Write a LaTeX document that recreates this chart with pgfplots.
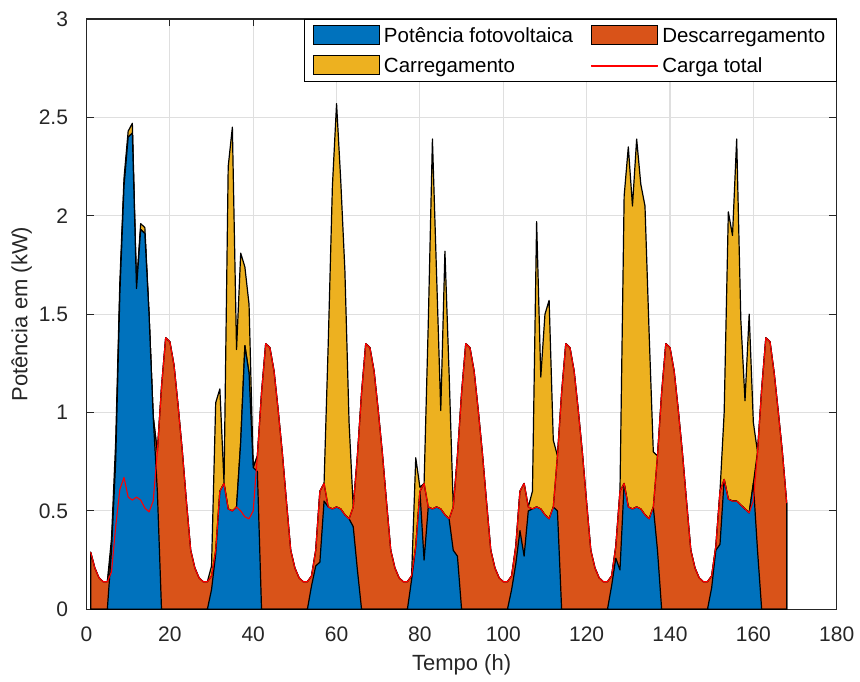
\documentclass[border=0pt]{standalone}
\usepackage{pgfplots}
\usepackage{pgfplotstable}
\usepackage{fontspec}
\setmainfont{Liberation Sans}
\pgfplotsset{compat=1.18}
\definecolor{mblue}{rgb}{0,0.447,0.741}
\definecolor{morange}{rgb}{0.85,0.325,0.098}
\definecolor{myellow}{rgb}{0.929,0.694,0.125}
\definecolor{mred}{rgb}{1,0,0}
\definecolor{axgray}{RGB}{38,38,38}
\definecolor{gridgray}{RGB}{223,223,223}
\pgfplotsset{
  patchlegend/.style={legend image code/.code={\draw[##1,draw=black,line width=0.9pt] (0pt,-9pt) rectangle (66pt,10pt);}},
  redlinelegend/.style={legend image code/.code={\fill[mred] (0pt,-0.5pt) rectangle (66pt,0.5pt);}},
}

\pgfplotstableread{
t B M T L
1 0 0.29 0.29 0.29
2 0 0.21 0.21 0.21
3 0 0.16 0.16 0.16
4 0 0.14 0.14 0.14
5 0 0.14 0.14 0.14
6 0.30 0.30 0.36 0.19
7 0.75 0.75 0.85 0.42
8 1.60 1.60 1.66 0.61
9 2.15 2.15 2.19 0.67
10 2.40 2.40 2.43 0.57
11 2.42 2.42 2.47 0.555
12 1.63 1.63 1.64 0.57
13 1.93 1.93 1.96 0.555
14 1.91 1.91 1.94 0.515
15 1.50 1.50 1.50 0.495
16 0.98 0.98 0.98 0.55
17 0.60 0.80 0.80 0.80
18 0 1.13 1.13 1.13
19 0 1.38 1.38 1.38
20 0 1.36 1.36 1.36
21 0 1.24 1.24 1.24
22 0 1.03 1.03 1.03
23 0 0.80 0.80 0.80
24 0 0.54 0.54 0.54
25 0 0.30 0.30 0.30
26 0 0.21 0.21 0.21
27 0 0.16 0.16 0.16
28 0 0.14 0.14 0.14
29 0 0.14 0.14 0.14
30 0.10 0.17 0.22 0.17
31 0.28 0.30 1.05 0.30
32 0.60 0.60 1.12 0.60
33 0.64 0.64 0.64 0.64
34 0.51 0.51 2.25 0.51
35 0.50 0.50 2.45 0.50
36 0.52 0.52 1.32 0.52
37 0.85 0.85 1.81 0.50
38 1.34 1.34 1.74 0.47
39 1.20 1.20 1.55 0.46
40 0.72 0.72 0.72 0.50
41 0.70 0.78 0.78 0.78
42 0 1.10 1.10 1.10
43 0 1.35 1.35 1.35
44 0 1.33 1.33 1.33
45 0 1.21 1.21 1.21
46 0 1.01 1.01 1.01
47 0 0.79 0.79 0.79
48 0 0.54 0.54 0.54
49 0 0.30 0.30 0.30
50 0 0.21 0.21 0.21
51 0 0.16 0.16 0.16
52 0 0.14 0.14 0.14
53 0 0.14 0.14 0.14
54 0.12 0.17 0.17 0.17
55 0.22 0.30 0.30 0.30
56 0.24 0.60 0.60 0.60
57 0.55 0.64 0.64 0.64
58 0.52 0.52 1.35 0.52
59 0.51 0.51 2.15 0.51
60 0.52 0.52 2.57 0.52
61 0.51 0.51 2.18 0.51
62 0.48 0.48 1.72 0.48
63 0.46 0.46 0.95 0.46
64 0.42 0.52 0.52 0.52
65 0.20 0.78 0.78 0.78
66 0 1.10 1.10 1.10
67 0 1.35 1.35 1.35
68 0 1.33 1.33 1.33
69 0 1.21 1.21 1.21
70 0 1.01 1.01 1.01
71 0 0.79 0.79 0.79
72 0 0.54 0.54 0.54
73 0 0.30 0.30 0.30
74 0 0.21 0.21 0.21
75 0 0.16 0.16 0.16
76 0 0.14 0.14 0.14
77 0 0.14 0.14 0.14
78 0.15 0.17 0.17 0.17
79 0.32 0.32 0.77 0.32
80 0.60 0.60 0.62 0.60
81 0.25 0.64 0.64 0.64
82 0.52 0.52 1.45 0.52
83 0.51 0.51 2.39 0.51
84 0.52 0.52 1.70 0.52
85 0.51 0.51 1.01 0.51
86 0.48 0.48 1.82 0.48
87 0.46 0.46 1.20 0.46
88 0.30 0.52 0.52 0.52
89 0.27 0.78 0.78 0.78
90 0 1.10 1.10 1.10
91 0 1.35 1.35 1.35
92 0 1.33 1.33 1.33
93 0 1.21 1.21 1.21
94 0 1.01 1.01 1.01
95 0 0.79 0.79 0.79
96 0 0.54 0.54 0.54
97 0 0.30 0.30 0.30
98 0 0.21 0.21 0.21
99 0 0.16 0.16 0.16
100 0 0.14 0.14 0.14
101 0 0.14 0.14 0.14
102 0.10 0.17 0.17 0.17
103 0.23 0.32 0.32 0.32
104 0.40 0.60 0.60 0.60
105 0.27 0.64 0.64 0.64
106 0.50 0.52 0.52 0.52
107 0.51 0.51 0.60 0.51
108 0.52 0.52 1.97 0.52
109 0.51 0.51 1.18 0.51
110 0.48 0.48 1.50 0.48
111 0.46 0.46 1.57 0.46
112 0.52 0.52 0.86 0.52
113 0.50 0.78 0.78 0.78
114 0 1.10 1.10 1.10
115 0 1.35 1.35 1.35
116 0 1.33 1.33 1.33
117 0 1.21 1.21 1.21
118 0 1.01 1.01 1.01
119 0 0.79 0.79 0.79
120 0 0.54 0.54 0.54
121 0 0.30 0.30 0.30
122 0 0.21 0.21 0.21
123 0 0.16 0.16 0.16
124 0 0.14 0.14 0.14
125 0 0.14 0.14 0.14
126 0.12 0.17 0.17 0.17
127 0.26 0.32 0.32 0.32
128 0.20 0.60 0.60 0.60
129 0.64 0.64 2.10 0.64
130 0.52 0.52 2.35 0.52
131 0.51 0.51 2.05 0.51
132 0.52 0.52 2.39 0.52
133 0.51 0.51 2.16 0.51
134 0.48 0.48 2.05 0.48
135 0.46 0.46 1.40 0.46
136 0.52 0.52 0.80 0.52
137 0.30 0.78 0.78 0.78
138 0 1.10 1.10 1.10
139 0 1.35 1.35 1.35
140 0 1.33 1.33 1.33
141 0 1.21 1.21 1.21
142 0 1.01 1.01 1.01
143 0 0.79 0.79 0.79
144 0 0.54 0.54 0.54
145 0 0.30 0.30 0.30
146 0 0.21 0.21 0.21
147 0 0.16 0.16 0.16
148 0 0.14 0.14 0.14
149 0 0.14 0.14 0.14
150 0.11 0.17 0.17 0.17
151 0.30 0.32 0.32 0.32
152 0.33 0.60 0.60 0.60
153 0.66 0.66 1.00 0.66
154 0.56 0.56 2.02 0.56
155 0.55 0.55 1.90 0.55
156 0.55 0.55 2.39 0.55
157 0.53 0.53 1.47 0.53
158 0.51 0.51 1.06 0.51
159 0.49 0.49 1.50 0.49
160 0.64 0.64 0.95 0.55
161 0.30 0.80 0.80 0.80
162 0 1.12 1.12 1.12
163 0 1.38 1.38 1.38
164 0 1.36 1.36 1.36
165 0 1.20 1.20 1.20
166 0 1.00 1.00 1.00
167 0 0.79 0.79 0.79
168 0 0.54 0.54 0.54
}\datatable

\begin{document}
\begin{tikzpicture}
\begin{axis}[
  scale only axis,
  width=750.2pt, height=590.3pt,
  xmin=0, xmax=180, ymin=0, ymax=3,
  xtick={0,20,...,180},
  ytick={0,0.5,1,1.5,2,2.5,3},
  yticklabels={0,0.5,1,1.5,2,2.5,3},
  tick align=inside,
  tick pos=both,
  major tick length=7.5pt,
  every tick/.style={axgray, line width=1.1pt},
  axis line style={axgray, line width=1.3pt},
  grid=major,
  major grid style={gridgray, line width=1.1pt},
  /pgf/number format/assume math mode=true,
  tick label style={font=\fontsize{21}{25}\selectfont, text=axgray},
  xlabel={Tempo (h)},
  ylabel={Potência em (kW)},
  label style={font=\fontsize{22}{26}\selectfont, text=axgray},
  xticklabel style={yshift=-14pt},
  yticklabel style={xshift=-15pt},
  xlabel style={yshift=-6pt},
  legend columns=2,
  legend cell align=left,
  legend style={at={(1,1)}, anchor=north east, line width=1pt,
    font=\fontsize{20.5}{24}\selectfont, fill=white,
    inner xsep=9pt, inner ysep=6pt, row sep=9pt,
    /tikz/every odd column/.append style={column sep=2pt},
    /tikz/every even column/.append style={column sep=16pt}},
]
\addplot[fill=myellow, draw=black, line width=1.2pt, line join=round, forget plot] table[x=t,y=T]{\datatable} \closedcycle;
\addplot[fill=morange, draw=black, line width=1.2pt, line join=round, forget plot] table[x=t,y=M]{\datatable} \closedcycle;
\addplot[fill=mblue, draw=black, line width=1.2pt, line join=round, forget plot] table[x=t,y=B]{\datatable} \closedcycle;

\addlegendimage{patchlegend, fill=mblue}
\addlegendentry{Potência fotovoltaica}
\addlegendimage{patchlegend, fill=morange}
\addlegendentry{Descarregamento}
\addlegendimage{patchlegend, fill=myellow}
\addlegendentry{Carregamento}

\addplot[color=mred, line width=1.1pt, line join=round, redlinelegend] table[x=t,y=L]{\datatable};
\addlegendentry{Carga total}
\end{axis}
\pgfresetboundingbox
\path ([xshift=-86.5pt,yshift=-72.7pt]current axis.south west) rectangle ([xshift=23.3pt,yshift=19pt]current axis.north east);
\end{tikzpicture}
\end{document}
